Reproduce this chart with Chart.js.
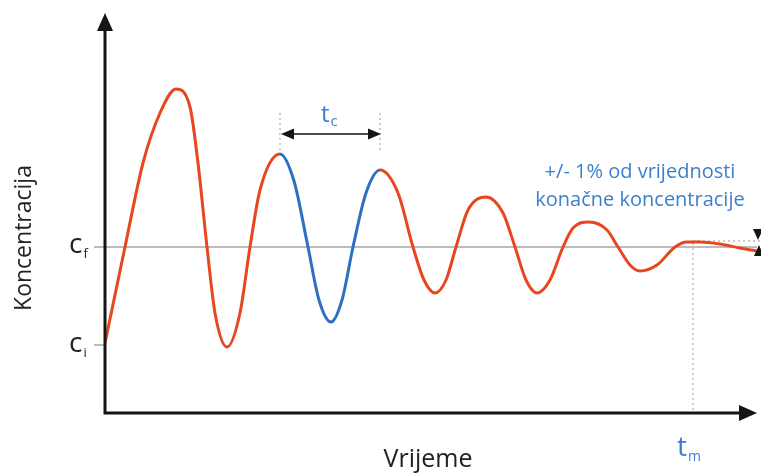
<!DOCTYPE html>
<html>
<head>
<meta charset="utf-8">
<script src="https://cdn.jsdelivr.net/npm/chart.js@4"></script>
<style>
  body { margin: 0; background: #fff; }
  #wrap { width: 761px; height: 473px; position: relative; }
</style>
</head>
<body>
<div id="wrap"><canvas id="chart"></canvas></div>
<script>
// time (arbitrary units) and concentration
const time = [0, 20, 38, 55, 71, 85, 93, 102, 110, 122, 135, 145, 155, 175,
  189, 203, 214, 226, 237, 248, 261, 275, 293, 308, 319, 330, 341, 351,
  363, 381, 398, 410, 421, 432, 445, 458, 468, 484, 502, 513, 525, 535,
  552, 570, 582, 595, 615, 635, 652];
const concentration = [70, 166, 250, 300, 324, 306, 250, 166, 100, 66, 100,
  166, 223, 259, 232, 166, 113, 91, 113, 166, 220, 243, 220, 166, 133, 120,
  133, 166, 203, 216, 200, 166, 133, 120, 133, 166, 185, 191, 183, 166,
  148, 142, 148, 166, 171, 171, 169, 165, 162];

const cF = 166;             // final concentration
const cI = 68;              // initial concentration
const tcStart = 175, tcEnd = 275;  // one period, drawn blue
const tM = 588;             // settling time

const red = '#e8461e';
const blue = '#2e6fc0';
const textBlue = '#3b7fcf';

const points = time.map((t, i) => ({ x: t, y: concentration[i] }));

function arrowHead(ctx, x, y, dir, len, half) {
  ctx.beginPath();
  if (dir === 'up') { ctx.moveTo(x, y); ctx.lineTo(x - half, y + len); ctx.lineTo(x + half, y + len); }
  if (dir === 'down') { ctx.moveTo(x, y); ctx.lineTo(x - half, y - len); ctx.lineTo(x + half, y - len); }
  if (dir === 'right') { ctx.moveTo(x, y); ctx.lineTo(x - len, y - half); ctx.lineTo(x - len, y + half); }
  if (dir === 'left') { ctx.moveTo(x, y); ctx.lineTo(x + len, y - half); ctx.lineTo(x + len, y + half); }
  ctx.closePath();
  ctx.fill();
}

function subLabel(ctx, main, sub, x, y, size, subSize, color) {
  ctx.fillStyle = color;
  ctx.textBaseline = 'alphabetic';
  ctx.textAlign = 'left';
  ctx.font = size + 'px "Open Sans"';
  ctx.fillText(main, x, y);
  const w = ctx.measureText(main).width;
  ctx.font = subSize + 'px "Open Sans"';
  ctx.fillText(sub, x + w + 1, y + size * 0.18);
}

const decor = {
  id: 'decor',
  beforeDatasetsDraw(chart) {
    const { ctx, chartArea: a, scales: { x, y } } = chart;
    ctx.save();
    // c_f reference line and c_i tick
    ctx.strokeStyle = '#7a7a7a';
    ctx.lineWidth = 1.2;
    ctx.beginPath();
    ctx.moveTo(a.left - 11, y.getPixelForValue(cF));
    ctx.lineTo(a.right, y.getPixelForValue(cF));
    ctx.moveTo(a.left - 11, y.getPixelForValue(cI));
    ctx.lineTo(a.left, y.getPixelForValue(cI));
    ctx.stroke();
    // dotted guides
    ctx.setLineDash([2, 3]);
    ctx.strokeStyle = '#999';
    ctx.lineWidth = 1;
    ctx.beginPath();
    const xs = x.getPixelForValue(tcStart), xe = x.getPixelForValue(tcEnd);
    ctx.moveTo(xs, 113); ctx.lineTo(xs, 153);
    ctx.moveTo(xe, 113); ctx.lineTo(xe, 152);
    const xm = x.getPixelForValue(tM);
    ctx.moveTo(xm, y.getPixelForValue(170)); ctx.lineTo(xm, a.bottom);
    ctx.moveTo(xm, y.getPixelForValue(172)); ctx.lineTo(a.right + 4, y.getPixelForValue(172));
    ctx.stroke();
    ctx.restore();
  },
  afterDraw(chart) {
    const { ctx, chartArea: a, scales: { x, y } } = chart;
    ctx.save();
    // axes with arrows
    ctx.strokeStyle = '#151515';
    ctx.fillStyle = '#151515';
    ctx.lineWidth = 3;
    ctx.beginPath();
    ctx.moveTo(a.left, a.top + 14);
    ctx.lineTo(a.left, a.bottom);
    ctx.lineTo(a.right - 14, a.bottom);
    ctx.stroke();
    arrowHead(ctx, a.left, a.top, 'up', 18, 8);
    arrowHead(ctx, a.right, a.bottom, 'right', 18, 8);

    // t_c span arrow
    const xs = x.getPixelForValue(tcStart), xe = x.getPixelForValue(tcEnd);
    ctx.lineWidth = 1.5;
    ctx.beginPath();
    ctx.moveTo(xs + 10, 134); ctx.lineTo(xe - 10, 134);
    ctx.stroke();
    arrowHead(ctx, xs + 1, 134, 'left', 13, 5.5);
    arrowHead(ctx, xe + 1, 134, 'right', 13, 5.5);

    // tolerance band marks at right edge
    arrowHead(ctx, 758, 240, 'down', 11, 5);
    arrowHead(ctx, 759, 245, 'up', 11, 5);

    // axis titles
    ctx.fillStyle = '#222';
    ctx.textAlign = 'center';
    ctx.textBaseline = 'alphabetic';
    ctx.font = '25px "Open Sans"';
    ctx.fillText('Vrijeme', 428, 467);
    ctx.font = '23px "Open Sans"';
    ctx.save();
    ctx.translate(31, 238);
    ctx.rotate(-Math.PI / 2);
    ctx.fillText('Koncentracija', 0, 0);
    ctx.restore();

    // level labels
    subLabel(ctx, 'c', 'f', 69, y.getPixelForValue(cF) + 6, 28, 13, '#222');
    subLabel(ctx, 'c', 'i', 69, y.getPixelForValue(cI) + 7, 28, 13, '#222');
    subLabel(ctx, 't', 'c', 321, 122, 24, 15, textBlue);
    subLabel(ctx, 't', 'm', 677, 456, 28, 14, textBlue);

    // annotation
    ctx.fillStyle = textBlue;
    ctx.font = '20px "Open Sans"';
    ctx.textAlign = 'center';
    ctx.textBaseline = 'middle';
    ctx.fillText('+/- 1% od vrijednosti', 640, 172);
    ctx.fillText('konačne koncentracije', 640, 200);
    ctx.restore();
  }
};

new Chart(document.getElementById('chart'), {
  type: 'line',
  data: {
    datasets: [{
      data: points,
      borderColor: red,
      borderWidth: 3,
      pointRadius: 0,
      fill: false,
      cubicInterpolationMode: 'monotone',
      segment: {
        borderColor: c => (c.p0.parsed.x >= tcStart - 1 && c.p1.parsed.x <= tcEnd + 1) ? blue : red
      }
    }]
  },
  options: {
    responsive: true,
    maintainAspectRatio: false,
    animation: false,
    layout: { padding: { left: 105, right: 4, top: 13, bottom: 60 } },
    scales: {
      x: { type: 'linear', min: 0, max: 652, display: false },
      y: { min: 0, max: 400, display: false }
    },
    plugins: {
      legend: { display: false },
      tooltip: { enabled: false }
    }
  },
  plugins: [decor]
});
</script>
</body>
</html>
